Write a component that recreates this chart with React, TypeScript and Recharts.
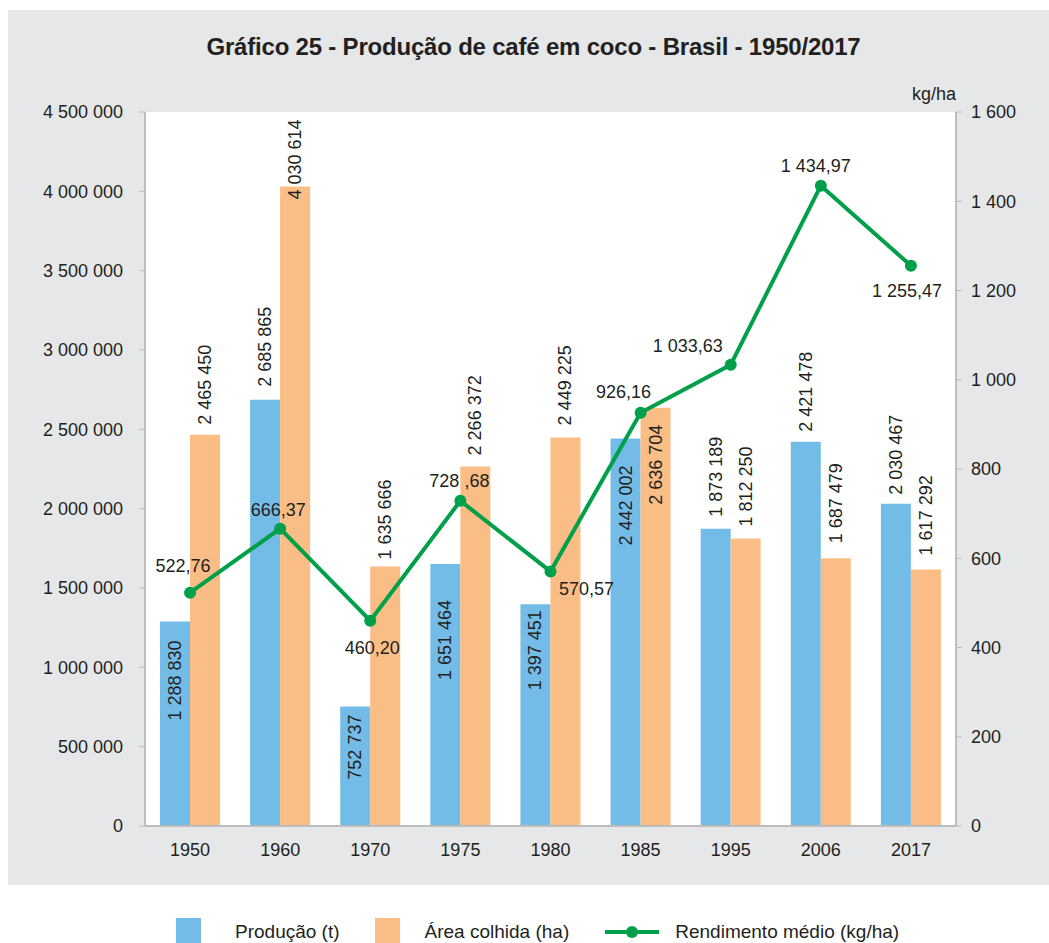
import { ComposedChart, Bar, Line, XAxis, YAxis, CartesianGrid, LabelList } from 'recharts';

const years = ['1950', '1960', '1970', '1975', '1980', '1985', '1995', '2006', '2017'];
const production = [1288830, 2685865, 752737, 1651464, 1397451, 2442002, 1873189, 2421478, 2030467];
const harvestedArea = [2465450, 4030614, 1635666, 2266372, 2449225, 2636704, 1812250, 1687479, 1617292];
const yieldAvg = [522.76, 666.37, 460.2, 728.68, 570.57, 926.16, 1033.63, 1434.97, 1255.47];
const yieldText = ['522,76', '666,37', '460,20', '728 ,68', '570,57', '926,16', '1 033,63', '1 434,97', '1 255,47'];

const leftTicks = [0, 500000, 1000000, 1500000, 2000000, 2500000, 3000000, 3500000, 4000000, 4500000];
const rightTicks = [0, 200, 400, 600, 800, 1000, 1200, 1400, 1600];

// label placement: [anchor, shift from bar top]
const prodLabelPlace: [string, number][] = [['end', 19], ['start', -13], ['end', 8], ['end', 36], ['end', 6], ['end', 27], ['start', -12], ['start', -10], ['start', -9]];
const areaLabelPlace: [string, number][] = [['start', -10], ['start', 13], ['start', -7], ['start', -11], ['start', -12], ['end', 17], ['start', -12], ['start', -15], ['start', -14]];
const yieldLabelDx = [-7, -2, 2, -1, 36, -17, -43, -5, -4];
const yieldLabelDy = [-27, -19, 27, -20, 18, -21, -19, -20, 25];

const BLUE = '#74BCE8';
const ORANGE = '#F9BD85';
const GREEN = '#00A04B';
const GRAY_BG = '#E6E7E8';
const AXIS = '#BDBDBD';
const TEXT = '#231F20';
const FONT = "'Liberation Sans', Arial, sans-serif";

const data = years.map((y, i) => ({
  year: y,
  prod: production[i],
  area: harvestedArea[i],
  rend: yieldAvg[i],
}));

const fmt = (v: number) => String(Math.round(v)).replace(/\B(?=(\d{3})+(?!\d))/g, ' ');

const barLabel = (place: [string, number][]) => (props: any) => {
  const { x, y, width, index, value } = props;
  const [anchor, shift] = place[index] || ['start', -12];
  const cx = x + width / 2;
  const cy = y + shift;
  return (
    <text
      x={cx}
      y={cy}
      transform={`rotate(-90, ${cx}, ${cy})`}
      textAnchor={anchor as any}
      dominantBaseline="central"
      fontSize={18}
      fontFamily={FONT}
      fill={TEXT}
    >
      {fmt(value)}
    </text>
  );
};

const lineLabel = (props: any) => {
  const { x, y, index } = props;
  return (
    <text
      x={x + yieldLabelDx[index]}
      y={y + yieldLabelDy[index]}
      textAnchor="middle"
      dominantBaseline="central"
      fontSize={18}
      fontFamily={FONT}
      fill={TEXT}
    >
      {yieldText[index]}
    </text>
  );
};

const tickStyle = { fontSize: 18, fontFamily: FONT, fill: TEXT };

export default function App() {
  return (
    <div style={{ position: 'relative', width: 1049, height: 943, overflow: 'hidden', fontFamily: FONT, color: TEXT }}>
      <style>{'body{margin:0}'}</style>
      <div style={{ position: 'absolute', left: 8, top: 10, width: 1041, height: 875, background: GRAY_BG }} />
      <div style={{ position: 'absolute', left: 8, top: 33, width: 1051, textAlign: 'center', fontSize: 24, fontWeight: 'bold', letterSpacing: -0.2 }}>
        Gráfico 25 - Produção de café em coco - Brasil - 1950/2017
      </div>
      <div style={{ position: 'absolute', left: 880, top: 84, width: 76, textAlign: 'right', fontSize: 18 }}>kg/ha</div>
      <div style={{ position: 'absolute', left: 0, top: 0 }}>
        <ComposedChart
          width={1049}
          height={943}
          data={data}
          margin={{ top: 112, right: 0, left: 0, bottom: 87 }}
          barGap={0}
        >
          <CartesianGrid fill="#FFFFFF" stroke="none" horizontal={false} vertical={false} />
          <XAxis
            dataKey="year"
            height={30}
            tick={tickStyle}
            tickLine={false}
            tickMargin={11}
            axisLine={{ stroke: AXIS, strokeWidth: 2 }}
          />
          <YAxis
            yAxisId="left"
            width={145}
            domain={[0, 4500000]}
            ticks={leftTicks}
            tickFormatter={fmt}
            tick={tickStyle}
            tickSize={6}
            tickMargin={16}
            tickLine={{ stroke: AXIS }}
            axisLine={{ stroke: AXIS, strokeWidth: 2 }}
            interval={0}
          />
          <YAxis
            yAxisId="right"
            orientation="right"
            width={93}
            domain={[0, 1600]}
            ticks={rightTicks}
            tickFormatter={fmt}
            tick={tickStyle}
            tickSize={6}
            tickMargin={9}
            tickLine={{ stroke: AXIS }}
            axisLine={{ stroke: AXIS, strokeWidth: 2 }}
            interval={0}
          />
          <Bar yAxisId="left" dataKey="prod" fill={BLUE} barSize={30} isAnimationActive={false}>
            <LabelList dataKey="prod" content={barLabel(prodLabelPlace)} />
          </Bar>
          <Bar yAxisId="left" dataKey="area" fill={ORANGE} barSize={30} isAnimationActive={false}>
            <LabelList dataKey="area" content={barLabel(areaLabelPlace)} />
          </Bar>
          <Line
            yAxisId="right"
            dataKey="rend"
            stroke={GREEN}
            strokeWidth={4}
            dot={{ r: 6, fill: GREEN, stroke: GREEN, strokeWidth: 0 }}
            isAnimationActive={false}
          >
            <LabelList dataKey="rend" content={lineLabel} />
          </Line>
        </ComposedChart>
      </div>
      <div style={{ position: 'absolute', top: 918, left: 176, display: 'flex', alignItems: 'center', fontSize: 19, height: 27 }}>
        <span style={{ width: 25, height: 27, background: BLUE, display: 'inline-block' }} />
        <span style={{ marginLeft: 34 }}>Produção (t)</span>
        <span style={{ width: 25, height: 27, background: ORANGE, display: 'inline-block', marginLeft: 35 }} />
        <span style={{ marginLeft: 25 }}>Área colhida (ha)</span>
        <svg width={54} height={16} style={{ marginLeft: 36 }}>
          <line x1={0} y1={8} x2={54} y2={8} stroke={GREEN} strokeWidth={4} />
          <circle cx={27} cy={8} r={6} fill={GREEN} />
        </svg>
        <span style={{ marginLeft: 16 }}>Rendimento médio (kg/ha)</span>
      </div>
    </div>
  );
}
